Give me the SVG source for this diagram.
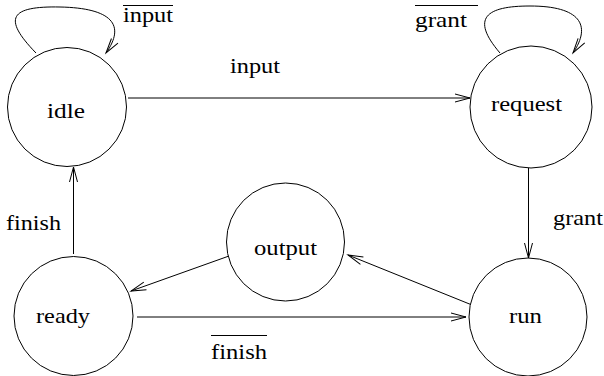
<svg xmlns="http://www.w3.org/2000/svg" width="604" height="376" viewBox="0 0 604 376">
  <defs>
    <marker id="open" markerUnits="userSpaceOnUse" markerWidth="18" markerHeight="10" refX="15" refY="4" orient="auto" overflow="visible">
      <path d="M0,0 L15,4 L0,8" fill="none" stroke="#000" stroke-width="1"/>
    </marker>
    <style>
      .state { fill: #fff; stroke: #000; stroke-width: 1; }
      .edge { fill: none; stroke: #000; stroke-width: 1; marker-end: url(#open); }
      .bar { stroke: #000; stroke-width: 1; }
      .lbl { font-family: 'Liberation Serif', 'DejaVu Serif', 'Noto Serif', Tinos, serif; font-size: 21px; fill: #000; }
    </style>
  </defs>
  <rect width="604" height="376" fill="#fff"/>

  <g id="connectors">
    <!-- self loops -->
    <path class="edge" d="M36,53 C2,18 10,6 60,7 C112,8 126,25 106,53"/>
    <path class="edge" d="M500,53 C470,18 486,6 530,6 C580,6 592,25 573,53"/>
    <!-- straight transitions -->
    <path class="edge" d="M128,98 L470,98"/>
    <path class="edge" d="M528.5,168 L528.5,258"/>
    <path class="edge" d="M73.5,254 L73.5,167"/>
    <path class="edge" d="M137,317 L466,317"/>
    <path class="edge" d="M229,256 L131,291"/>
    <path class="edge" d="M472,305 L348,255"/>
  </g>

  <g id="labels">
    <text class="lbl" x="123" y="22" textLength="50" lengthAdjust="spacingAndGlyphs">input</text>
    <line class="bar" x1="123" y1="5.5" x2="173" y2="5.5"/>
    <text class="lbl" x="415" y="27" textLength="52" lengthAdjust="spacingAndGlyphs">grant</text>
    <line class="bar" x1="415" y1="5.5" x2="478" y2="5.5"/>
    <text class="lbl" x="230" y="73" textLength="50" lengthAdjust="spacingAndGlyphs">input</text>
    <text class="lbl" x="553" y="225" textLength="50" lengthAdjust="spacingAndGlyphs">grant</text>
    <text class="lbl" x="6" y="230" textLength="55" lengthAdjust="spacingAndGlyphs">finish</text>
    <text class="lbl" x="211" y="359" textLength="56" lengthAdjust="spacingAndGlyphs">finish</text>
    <line class="bar" x1="211" y1="335.5" x2="267" y2="335.5"/>
  </g>

  <g id="idle">
    <circle class="state" cx="67" cy="107" r="59.5"/>
    <text class="lbl" x="47" y="118" textLength="38" lengthAdjust="spacingAndGlyphs">idle</text>
  </g>
  <g id="request">
    <circle class="state" cx="531" cy="107" r="61"/>
    <text class="lbl" x="491" y="111" textLength="71" lengthAdjust="spacingAndGlyphs">request</text>
  </g>
  <g id="output">
    <circle class="state" cx="285.5" cy="242" r="59"/>
    <text class="lbl" x="254" y="255" textLength="63" lengthAdjust="spacingAndGlyphs">output</text>
  </g>
  <g id="ready">
    <circle class="state" cx="73.5" cy="316" r="59.5"/>
    <text class="lbl" x="36" y="323" textLength="54" lengthAdjust="spacingAndGlyphs">ready</text>
  </g>
  <g id="run">
    <circle class="state" cx="528" cy="317" r="59"/>
    <text class="lbl" x="509" y="323" textLength="33" lengthAdjust="spacingAndGlyphs">run</text>
  </g>
</svg>
